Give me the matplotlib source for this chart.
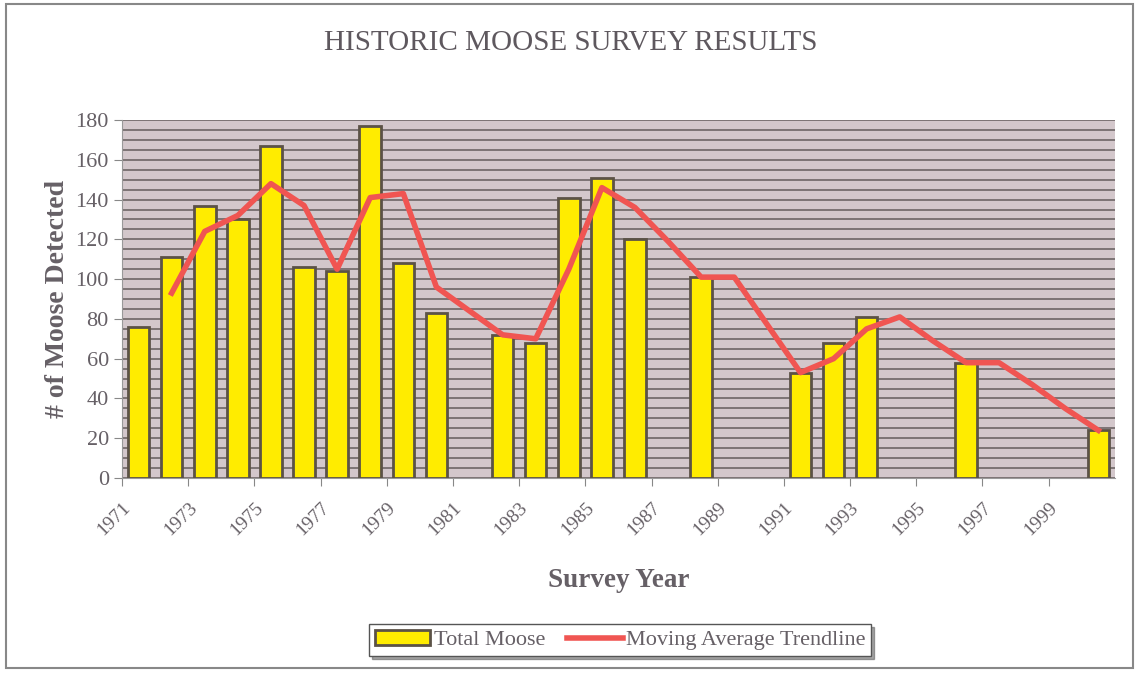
import numpy as np
import matplotlib
matplotlib.use('Agg')
import matplotlib.pyplot as plt
from matplotlib.patches import Rectangle

plt.rcParams['font.family'] = ['Liberation Serif', 'DejaVu Serif']

anos = list(range(1971, 2001))
# total de alces por ano (None = sem levantamento)
totalAlces = [76, 111, 137, 130, 167, 106, 104, 177, 108, 83,
              None, 72, 68, 141, 151, 120, None, 101, None, None,
              53, 68, 81, None, None, 58, None, None, None, 24]
# linha de media movel (comeca em 1972)
anosMedia = list(range(1972, 2001))
mediaMovel = [93, 124, 132, 148, 137, 105, 141, 143, 96, 84,
              72, 70, 105, 146, 136, 119, 101, 101, 77, 53,
              60, 75, 81, 69, 58, 58, 47, 35, 24]
rotulosAnos = [str(a) for a in range(1971, 2000, 2)]

corTexto = '#666066'
fig = plt.figure(figsize=(11.36, 6.73), dpi=100)
ax = fig.add_axes([0.1074, 0.2897, 0.874, 0.532])

xb = np.array(anos) - 1971
yb = np.array([np.nan if v is None else v for v in totalAlces], dtype=float)
ax.set_facecolor('#d3c7cb')
barras = ax.bar(xb, yb, width=0.65, color='#ffec00', edgecolor='#5b5246',
                linewidth=2, zorder=3)
linha, = ax.plot(np.array(anosMedia) - 1971, mediaMovel, color='#f05552',
                 linewidth=4, zorder=4, solid_joinstyle='round')

ax.set_xlim(-0.5, 29.5)
ax.set_ylim(0, 180)
ax.set_yticks(range(0, 181, 20))
ax.set_yticks(range(0, 181, 5), minor=True)
ax.grid(True, axis='y', which='both', color='#6e6566', linewidth=1.2, zorder=1)
ax.set_xticks(np.arange(0, 30, 2) - 0.5)
ax.set_xticklabels(rotulosAnos, rotation=45, ha='right', rotation_mode='anchor')
ax.tick_params(axis='x', which='both', length=6, color='#888888', labelsize=14,
               labelcolor=corTexto, pad=9)
ax.tick_params(axis='y', which='major', length=6, color='#888888', labelsize=16,
               labelcolor=corTexto)
ax.tick_params(axis='y', which='minor', length=0)
for lado in ['top', 'right']:
    ax.spines[lado].set_visible(False)
ax.spines['left'].set_color('#999999')
ax.spines['bottom'].set_color('#999999')

ax.set_ylabel('# of Moose Detected', fontsize=20, fontweight='bold',
              color=corTexto, labelpad=4)
ax.set_xlabel('Survey Year', fontsize=19.5, fontweight='bold', color=corTexto,
              labelpad=21)
fig.text(0.502, 0.936, 'HISTORIC MOOSE SURVEY RESULTS', ha='center', va='center',
         fontsize=21, color='#5e585e')

leg = fig.legend([barras, linha], ['Total Moose', 'Moving Average Trendline'],
                 loc='center', bbox_to_anchor=(0.546, 0.049), ncol=2,
                 fontsize=16, frameon=True, fancybox=False, shadow=True,
                 handlelength=2.5, handletextpad=0.15, columnspacing=1.0,
                 borderpad=0.25, labelcolor=corTexto)
leg.get_frame().set_edgecolor('#555555')
leg.get_frame().set_linewidth(1)

# moldura da figura
fig.patches.append(Rectangle((0.005, 0.008), 0.992, 0.986, transform=fig.transFigure,
                             fill=False, edgecolor='#888888', linewidth=1.5))

fig.savefig('out.png', dpi=100)
